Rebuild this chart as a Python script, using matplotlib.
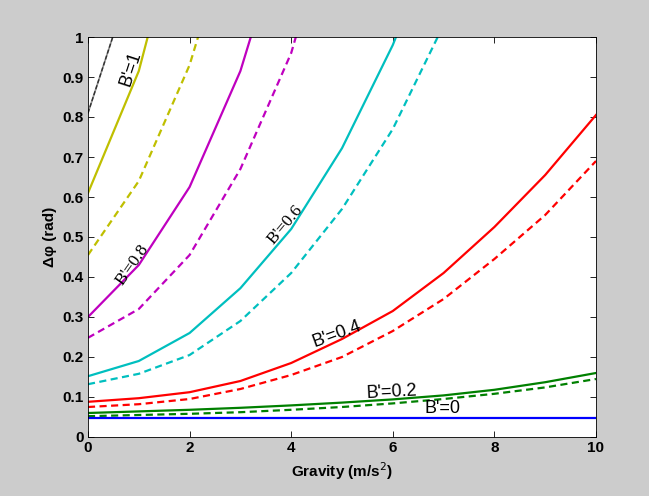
import matplotlib
matplotlib.use("Agg")
import matplotlib.pyplot as plt
import numpy as np

gravity = [0, 1, 2, 3, 4, 5, 6, 7, 8, 9, 10]

b0_solid = [0.047] * 11
b02_solid = [0.060, 0.064, 0.068, 0.073, 0.079, 0.086, 0.094, 0.104, 0.118, 0.137, 0.160]
b02_dash = [0.052, 0.055, 0.058, 0.062, 0.068, 0.075, 0.084, 0.095, 0.108, 0.124, 0.145]
b04_solid = [0.088, 0.097, 0.112, 0.140, 0.185, 0.245, 0.315, 0.410, 0.525, 0.655, 0.805]
b04_dash = [0.075, 0.082, 0.095, 0.120, 0.155, 0.200, 0.265, 0.345, 0.445, 0.555, 0.690]
b06_solid = [0.152, 0.190, 0.260, 0.372, 0.520, 0.722, 0.980, 1.30]
b06_dash = [0.132, 0.158, 0.205, 0.290, 0.410, 0.570, 0.770, 1.030]
b08_solid = [0.300, 0.430, 0.625, 0.915, 1.33]
b08_dash = [0.248, 0.320, 0.455, 0.670, 0.960, 1.40]
b1_solid = [0.610, 0.915, 1.40]
b1_dash = [0.455, 0.640, 0.930, 1.35]
b12_solid = [0.810, 1.20]

fig = plt.figure(figsize=(6.49, 4.96), dpi=100, facecolor="#cccccc")
ax = fig.add_axes([88/649, 59/496, (596-88)/649, (437-37)/496])
ax.set_facecolor("white")

lw = 1.6
dash = (0, (3.2, 2.0))

def g(vals):
    return gravity[:len(vals)]

ax.plot(g(b12_solid), b12_solid, color="#909090", lw=1.2)
ax.plot(g(b12_solid), b12_solid, color="#303030", lw=1.0, linestyle=(0, (3, 1.5)))
ax.plot(g(b1_solid), b1_solid, color="#bfbf00", lw=lw)
ax.plot(g(b1_dash), b1_dash, color="#bfbf00", lw=lw, linestyle=dash)
ax.plot(g(b08_solid), b08_solid, color="#bf00bf", lw=lw)
ax.plot(g(b08_dash), b08_dash, color="#bf00bf", lw=lw, linestyle=dash)
ax.plot(g(b06_solid), b06_solid, color="#00bfbf", lw=lw)
ax.plot(g(b06_dash), b06_dash, color="#00bfbf", lw=lw, linestyle=dash)
ax.plot(g(b04_solid), b04_solid, color="#ff0000", lw=lw)
ax.plot(g(b04_dash), b04_dash, color="#ff0000", lw=lw, linestyle=dash)
ax.plot(g(b02_solid), b02_solid, color="#008000", lw=lw)
ax.plot(g(b02_dash), b02_dash, color="#008000", lw=lw, linestyle=dash)
ax.plot(g(b0_solid), b0_solid, color="#0000ff", lw=lw)

ax.set_xlim(0, 10)
ax.set_ylim(0, 1)
ax.set_xticks(np.arange(0, 11, 2))
ax.set_yticks(np.round(np.arange(0, 1.01, 0.1), 1))
ax.set_yticklabels(["0", "0.1", "0.2", "0.3", "0.4", "0.5", "0.6", "0.7", "0.8", "0.9", "1"])
ax.tick_params(direction="in", top=True, right=True, length=4, width=0.6,
               labelsize=11, pad=3)
for lab in ax.get_xticklabels() + ax.get_yticklabels():
    lab.set_fontweight("bold")
    lab.set_family("Liberation Sans")
for sp in ax.spines.values():
    sp.set_linewidth(0.6)

ax.set_xlabel("Gravity (m/s$^2$)", fontsize=11, fontweight="bold", family="Liberation Sans")
ax.set_ylabel("\u0394\u03c6 (rad)", fontsize=11, fontweight="bold", family="Liberation Sans")

sans = "Liberation Sans"
serif = "Liberation Serif"
ax.text(0.85, 0.92, "B'=1", rotation=72, fontsize=13, family=sans, ha="center", va="center")
ax.text(0.88, 0.43, "B'=0.8", rotation=55, fontsize=12.5, family=serif, ha="center", va="center")
ax.text(3.88, 0.53, "B'=0.6", rotation=50, fontsize=12.5, family=serif, ha="center", va="center")
ax.text(4.9, 0.257, "B'=0.4", rotation=20, fontsize=13, family=sans, ha="center", va="center")
ax.text(5.98, 0.113, "B'=0.2", rotation=3, fontsize=13, family=sans, ha="center", va="center")
ax.text(6.97, 0.072, "B'=0", rotation=0, fontsize=13, family=sans, ha="center", va="center")

fig.savefig("out.png", dpi=100, facecolor=fig.get_facecolor())
